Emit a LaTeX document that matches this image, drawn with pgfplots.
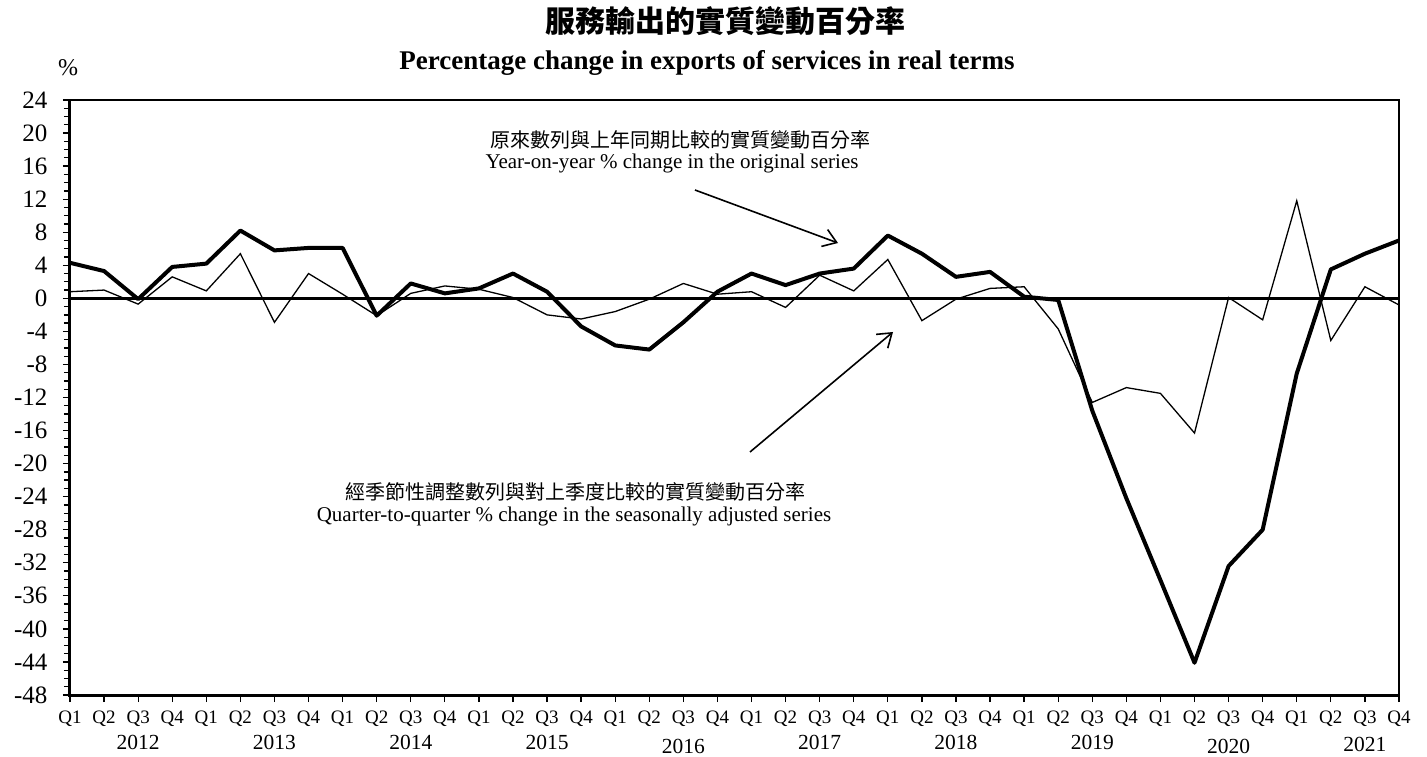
\documentclass[border=0pt]{standalone}
\usepackage{fontspec}
\setmainfont{Liberation Serif}
\newfontfamily\cjk{Noto Sans CJK TC}
\usepackage{pgfplots}
\usepackage{pgfplotstable}
\pgfplotsset{compat=1.18}
\usetikzlibrary{arrows.meta}

\pgfplotstableread{
i yoy qoq
0 4.3 0.8
1 3.3 1.0
2 -0.1 -0.7
3 3.8 2.6
4 4.2 0.9
5 8.2 5.4
6 5.8 -2.9
7 6.1 3.0
8 6.1 0.5
9 -2.1 -2.1
10 1.8 0.6
11 0.6 1.5
12 1.2 1.1
13 3.0 0.1
14 0.8 -2.0
15 -3.4 -2.5
16 -5.7 -1.6
17 -6.2 -0.1
18 -2.9 1.8
19 0.8 0.5
20 3.0 0.8
21 1.6 -1.1
22 3.0 2.8
23 3.6 0.9
24 7.6 4.7
25 5.4 -2.7
26 2.6 -0.1
27 3.2 1.2
28 0.2 1.4
29 -0.2 -3.7
30 -13.6 -12.6
31 -24.2 -10.8
32 -34.1 -11.5
33 -44.1 -16.3
34 -32.4 0.1
35 -28.0 -2.6
36 -9.1 11.8
37 3.5 -5.1
38 5.4 1.4
39 7.0 -0.8
}\datatable

\begin{document}
\begin{tikzpicture}[x=1pt,y=1pt]
\path[use as bounding box] (0,0) rectangle (1427,756);
\begin{axis}[
  at={(70pt,61pt)}, anchor=south west,
  width=1329pt, height=595pt, scale only axis,
  xmin=0, xmax=39, ymin=-48, ymax=24,
  xtick={0,...,39},
  xticklabels={Q1,Q2,Q3,Q4,Q1,Q2,Q3,Q4,Q1,Q2,Q3,Q4,Q1,Q2,Q3,Q4,Q1,Q2,Q3,Q4,Q1,Q2,Q3,Q4,Q1,Q2,Q3,Q4,Q1,Q2,Q3,Q4,Q1,Q2,Q3,Q4,Q1,Q2,Q3,Q4},
  ytick={-48,-44,-40,-36,-32,-28,-24,-20,-16,-12,-8,-4,0,4,8,12,16,20,24},
  yticklabels={-48,-44,-40,-36,-32,-28,-24,-20,-16,-12,-8,-4,0,4,8,12,16,20,24},
  minor y tick num=3,
  tick align=outside,
  xtick pos=left, ytick pos=left,
  major tick length=7pt, minor tick length=6pt,
  tick style={black, line width=1.3pt},
  axis line style={line width=1.5pt},
  clip=false,
  x tick label style={font=\fontsize{19}{22}\selectfont, yshift=-5pt},
  y tick label style={font=\fontsize{25}{28}\selectfont, xshift=-12pt},
]
\draw[line width=3pt] (axis cs:0,0) -- (axis cs:39,0);
\addplot[black, line width=1.3pt, line join=miter] table[x=i, y=qoq] {\datatable};
\addplot[black, line width=4pt, line join=round] table[x=i, y=yoy] {\datatable};
\draw[line width=3pt] (rel axis cs:0,1) -- (rel axis cs:0,0) -- (rel axis cs:1,0);
\foreach \yr/\pos/\dy in {2012/2/47,2013/6/47,2014/10/47,2015/14/47,2016/18/51,2017/22/47,2018/26/47,2019/30/47,2020/34/51,2021/38/49}{
  \edef\temp{\noexpand\node[font=\noexpand\fontsize{21.5}{24}\noexpand\selectfont] at (axis cs:\pos,-48) [yshift=-\dy pt] {\yr};}
  \temp
}
\end{axis}
\node[font=\cjk\bfseries\fontsize{30}{34}\selectfont] at (725,735) {服務輸出的實質變動百分率};
\node[font=\bfseries\fontsize{27}{30}\selectfont] at (707,693) {Percentage change in exports of services in real terms};
\node[font=\fontsize{24}{26}\selectfont] at (68,688) {\%};
\node[font=\cjk\fontsize{20}{22}\selectfont] at (680,616) {原來數列與上年同期比較的實質變動百分率};
\node[font=\fontsize{21}{23}\selectfont] at (672,593) {Year-on-year \% change in the original series};
\node[font=\cjk\fontsize{20}{22}\selectfont] at (575,264) {經季節性調整數列與對上季度比較的實質變動百分率};
\node[font=\fontsize{21}{23}\selectfont] at (574,240) {Quarter-to-quarter \% change in the seasonally adjusted series};
\draw[line width=1.6pt, -{Straight Barb[length=13pt,width=18pt]}] (695,566) -- (838,513);
\draw[line width=1.6pt, -{Straight Barb[length=13pt,width=18pt]}] (750,304) -- (893,424);
\end{tikzpicture}
\end{document}
